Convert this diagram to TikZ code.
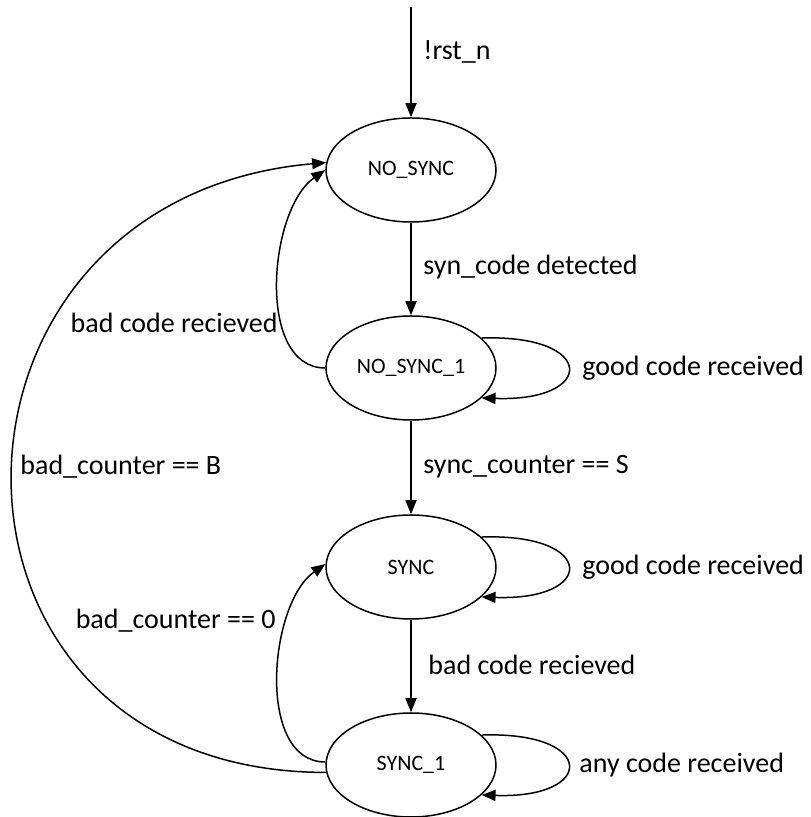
\documentclass[tikz,border=0pt]{standalone}
\usepackage{fontspec}
\setmainfont{Carlito}
\usetikzlibrary{shapes.geometric,arrows.meta}
\def\cx{411}
\def\ew{85pt}
\def\eh{52pt}
\def\lx{423}
\begin{document}
\begin{tikzpicture}[x=0.5pt,y=0.5pt,
    state/.style={ellipse, draw, line width=0.75pt, minimum width=\ew, minimum height=\eh, inner sep=0pt, font=\fontsize{11}{13}\selectfont},
    trans/.style={line width=0.75pt, -{Triangle[length=7pt,width=5.5pt]}},
    lbl/.style={font=\fontsize{14}{16}\selectfont, inner sep=0pt}]
  \useasboundingbox (0,0) rectangle (810,817);

    % states
  \node[state] (nosync)  at (\cx,647) {NO\_SYNC};
  \node[state] (nosync1) at (\cx,449) {NO\_SYNC\_1};
  \node[state] (sync)    at (\cx,250) {SYNC};
  \node[state] (sync1)   at (\cx,52)  {SYNC\_1};

    % reset
  \coordinate (rst) at (\cx,810);
  \draw[trans] (rst) -- (nosync);
  \node[lbl, anchor=west] (rstlbl) at (\lx,765) {!rst\_n};

    % straight arrows down the middle
  \draw[trans] (nosync) -- (nosync1);
  \node[lbl, anchor=west] (detlbl) at (\lx,550) {syn\_code detected};
  \draw[trans] (nosync1) -- (sync);
  \node[lbl, anchor=west] (scntlbl) at (\lx,350) {sync\_counter == S};
  \draw[trans] (sync) -- (sync1);
  \node[lbl, anchor=west] (badlbl) at (428,152) {bad code recieved};

    % self loops
  \draw[trans] (nosync1.23) .. controls +(115,4) and +(115,-4) .. (nosync1.-23);
  \node[lbl, anchor=west] (good1lbl) at (582,449) {good code received};
  \draw[trans] (sync.23) .. controls +(115,4) and +(115,-4) .. (sync.-23);
  \node[lbl, anchor=west] (good2lbl) at (582,250) {good code received};
  \draw[trans] (sync1.23) .. controls +(115,4) and +(115,-4) .. (sync1.-23);
  \node[lbl, anchor=west] (anylbl) at (579,52) {any code received};

    % back edges
  \draw[trans] (nosync1.west) to[out=180, in=215, looseness=0.9] (nosync.west);
  \node[lbl, anchor=east] (bad1lbl) at (278,494) {bad code recieved};
  \draw[trans] (sync1.178) to[out=180, in=215, looseness=0.9] (sync.178);
  \node[lbl, anchor=east] (bc0lbl) at (276,196) {bad\_counter == 0};
  \draw[trans] (sync1.185) to[out=180, in=185, looseness=1.76] (nosync.175);
  \node[lbl, anchor=west] (bcBlbl) at (20,350) {bad\_counter == B};
\end{tikzpicture}
\end{document}
